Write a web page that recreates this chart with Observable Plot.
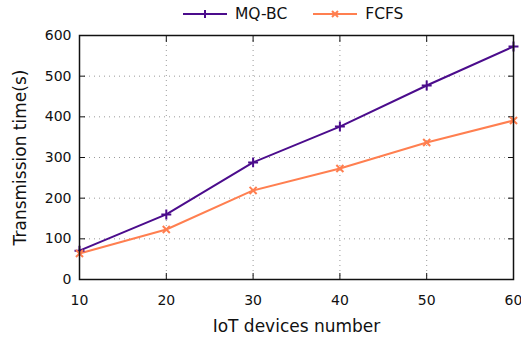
<!DOCTYPE html>
<html>
<head>
<meta charset="utf-8">
<script src="https://cdn.jsdelivr.net/npm/d3@7"></script>
<script src="https://cdn.jsdelivr.net/npm/@observablehq/plot@0.6"></script>
<style>
  body { margin: 0; background: #fff; font-family: "DejaVu Sans", sans-serif; }
  #wrap { width: 521px; height: 339px; position: relative; }
  #legend { height: 28px; display: flex; justify-content: flex-start; align-items: center; font-size: 15.5px; color: #111; padding-left: 183px; box-sizing: border-box; }
  .item { display: flex; align-items: center; gap: 8px; margin-right: 26px; }
</style>
</head>
<body>
<div id="wrap">
  <div id="legend"></div>
  <div id="chart"></div>
</div>
<script>
const devices = [10, 20, 30, 40, 50, 60];
const mqbc = [71, 160, 288, 376, 477, 573];
const fcfs = [64, 123, 219, 273, 337, 391];
const seriesNames = ["MQ-BC", "FCFS"];
const seriesColors = ["#4b0c8c", "#ff7f50"];
const seriesSymbols = ["plus", "times"];
const xTicks = [10, 20, 30, 40, 50, 60];
const yTicks = [0, 100, 200, 300, 400, 500, 600];

const data = [];
devices.forEach((d, i) => {
  data.push({x: d, y: mqbc[i], s: seriesNames[0]});
  data.push({x: d, y: fcfs[i], s: seriesNames[1]});
});

// legend
const legend = document.getElementById("legend");
seriesNames.forEach((name, i) => {
  const item = document.createElement("div");
  item.className = "item";
  const sym = seriesSymbols[i] === "plus"
    ? `<path d="M22,-4V4M18,0H26" />`
    : `<path d="M19,-3L25,3M19,3L25,-3" />`;
  item.innerHTML = `<svg width="44" height="12" viewBox="0 -6 44 12"><g stroke="${seriesColors[i]}" stroke-width="2" fill="none"><line x1="0" x2="44" y1="0" y2="0"/>${sym}</g></svg><span>${name}</span>`;
  legend.appendChild(item);
});

const chart = Plot.plot({
  width: 521,
  height: 311,
  marginTop: 7,
  marginBottom: 60,
  marginLeft: 79,
  marginRight: 8,
  style: {fontFamily: "DejaVu Sans, sans-serif", fontSize: "14px", color: "#111", background: "#fff"},
  x: {domain: [10, 60], ticks: xTicks},
  y: {domain: [0, 600], ticks: yTicks},
  color: {domain: seriesNames, range: seriesColors},
  symbol: {domain: seriesNames, range: seriesSymbols},
  marks: [
    Plot.gridX(xTicks, {stroke: "#999", strokeOpacity: 1, strokeDasharray: "1,4"}),
    Plot.gridY(yTicks, {stroke: "#999", strokeOpacity: 1, strokeDasharray: "1,4"}),
    Plot.axisX(xTicks, {anchor: "bottom", tickSize: 0, tickPadding: 16, fontSize: 14, label: null}),
    Plot.axisX({anchor: "bottom", ticks: [], label: "IoT devices number", labelAnchor: "center", labelArrow: "none", labelOffset: 52, fontSize: 17}),
    Plot.axisY(yTicks, {anchor: "left", tickSize: 0, tickPadding: 8, fontSize: 14, label: null}),
    Plot.axisY({anchor: "left", ticks: [], label: "Transmission time(s)", labelAnchor: "center", labelArrow: "none", labelOffset: 66, fontSize: 17}),
    Plot.axisX(xTicks, {anchor: "bottom", tickSize: 6, dy: -6, tickFormat: () => "", label: null}),
    Plot.axisX(xTicks, {anchor: "top", tickSize: 6, dy: 6, tickFormat: () => "", label: null}),
    Plot.axisY(yTicks, {anchor: "left", tickSize: 6, dx: 6, tickFormat: () => "", label: null}),
    Plot.axisY(yTicks, {anchor: "right", tickSize: 6, dx: -6, tickFormat: () => "", label: null}),
    Plot.line(data, {x: "x", y: "y", z: "s", stroke: "s", strokeWidth: 2}),
    Plot.dot(data, {x: "x", y: "y", stroke: "s", symbol: "s", r: 3.3, strokeWidth: 2}),
    Plot.frame({stroke: "#111", strokeWidth: 1.5})
  ]
});
document.getElementById("chart").appendChild(chart);
</script>
</body>
</html>
